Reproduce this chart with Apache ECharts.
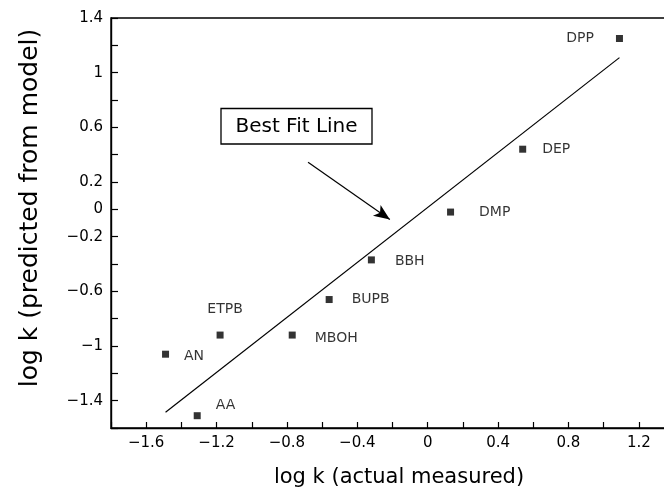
<!DOCTYPE html>
<html>
<head>
<meta charset="utf-8">
<script src="https://cdn.jsdelivr.net/npm/echarts@6/dist/echarts.min.js"></script>
<style>html,body{margin:0;padding:0;background:#fff;}#c{width:664px;height:490px;}</style>
</head>
<body>
<div id="c"></div>
<script>
// ---- data ----
var names    = ['DPP', 'DEP', 'DMP', 'BBH', 'BUPB', 'MBOH', 'ETPB', 'AN', 'AA'];
var actual   = [1.09, 0.54, 0.13, -0.32, -0.56, -0.77, -1.18, -1.49, -1.31];
var predicted= [1.25, 0.44, -0.02, -0.37, -0.66, -0.92, -0.92, -1.06, -1.51];
var fitX     = [-1.49, 1.09];
var fitY     = [-1.485, 1.11];
var arrowFrom = [-0.68, 0.345];
var arrowTo   = [-0.215, -0.075];
var xTickLabels = [-1.6, -1.2, -0.8, -0.4, 0, 0.4, 0.8, 1.2];
var yTickLabels = [1.4, 1, 0.6, 0.2, 0, -0.2, -0.6, -1, -1.4];
var xTitle = 'log k (actual measured)';
var yTitle = 'log k (predicted from model)';
var boxText = 'Best Fit Line';

// ---- label placement (style) ----
var labelPlace = {
  DPP:  {position: 'left',  distance: 22, offset: [0, 0]},
  DEP:  {position: 'right', distance: 16, offset: [0, 0]},
  DMP:  {position: 'right', distance: 25, offset: [0, 0]},
  BBH:  {position: 'right', distance: 20, offset: [0, 1]},
  BUPB: {position: 'right', distance: 19, offset: [0, 0]},
  MBOH: {position: 'right', distance: 19, offset: [0, 3]},
  ETPB: {position: 'top',   distance: 15, offset: [5, 0]},
  AN:   {position: 'right', distance: 15, offset: [0, 2]},
  AA:   {position: 'right', distance: 15, offset: [0, -10]}
};

var FONT = 'DejaVu Sans';
function fmt(v) {
  var s = (Math.round(v * 10) / 10).toString();
  return s.replace('-', '\u2212');
}
function inList(v, list) {
  for (var i = 0; i < list.length; i++) if (Math.abs(list[i] - v) < 1e-6) return true;
  return false;
}

var pts = names.map(function (n, i) {
  var lp = labelPlace[n];
  return {
    name: n,
    value: [actual[i], predicted[i]],
    label: {show: true, formatter: n, position: lp.position, distance: lp.distance, offset: lp.offset,
            color: '#000', fontSize: 14, fontFamily: FONT}
  };
});

var chart = echarts.init(document.getElementById('c'), null, {renderer: 'canvas'});
chart.setOption({
  animation: false,
  backgroundColor: '#fff',
  textStyle: {fontFamily: FONT},
  grid: {left: 111, top: 18, right: -10, bottom: 62, outerBoundsMode: 'none', containLabel: false,
         show: true, borderColor: '#000', borderWidth: 1.4, backgroundColor: 'transparent'},
  xAxis: {
    type: 'value', min: -1.8, max: 1.4, interval: 0.2,
    axisLine: {show: true, onZero: false, lineStyle: {color: '#000', width: 1.4}},
    axisTick: {show: true, inside: true, length: 6, lineStyle: {color: '#000', width: 1.2}},
    axisLabel: {
      show: true, margin: 8, color: '#000', fontSize: 15, fontFamily: FONT,
      showMinLabel: true, showMaxLabel: true,
      formatter: function (v) { return inList(v, xTickLabels) ? fmt(v) : ''; }
    },
    splitLine: {show: false}
  },
  yAxis: {
    type: 'value', min: -1.6, max: 1.4, interval: 0.2,
    axisLine: {show: true, onZero: false, lineStyle: {color: '#000', width: 1.4}},
    axisTick: {show: true, inside: true, length: 7, lineStyle: {color: '#000', width: 1.2}},
    axisLabel: {
      show: true, margin: 8, color: '#000', fontSize: 15, fontFamily: FONT,
      showMinLabel: true, showMaxLabel: true,
      formatter: function (v) { return inList(v, yTickLabels) ? fmt(v) : ''; }
    },
    splitLine: {show: false}
  },
  series: [
    {
      type: 'line',
      data: fitX.map(function (x, i) { return [x, fitY[i]]; }),
      symbol: 'none',
      lineStyle: {color: '#000', width: 1.2},
      silent: true,
      markLine: {
        silent: true,
        symbol: ['none', 'arrow'],
        symbolSize: [10, 16],
        label: {show: false},
        lineStyle: {color: '#000', width: 1.2, type: 'solid'},
        data: [[{coord: arrowFrom}, {coord: arrowTo}]]
      }
    },
    {
      type: 'scatter',
      data: pts,
      symbol: 'rect',
      symbolSize: 7,
      itemStyle: {color: '#000'}
    }
  ],
  graphic: [
    {
      type: 'text', x: 30, y: 208, rotation: Math.PI / 2,
      style: {text: yTitle, fill: '#000', font: '25px "DejaVu Sans"', textAlign: 'center', textVerticalAlign: 'middle'}
    },
    {
      type: 'text', x: 399, y: 478,
      style: {text: xTitle, fill: '#000', font: '21px "DejaVu Sans"', textAlign: 'center', textVerticalAlign: 'middle'}
    },
    {
      type: 'rect', shape: {x: 221, y: 108.5, width: 151, height: 35.5},
      style: {fill: '#fff', stroke: '#000', lineWidth: 1.3}
    },
    {
      type: 'text', x: 296.5, y: 126.5,
      style: {text: boxText, fill: '#000', font: '20px "DejaVu Sans"', textAlign: 'center', textVerticalAlign: 'middle'}
    }
  ]
});
</script>
</body>
</html>
